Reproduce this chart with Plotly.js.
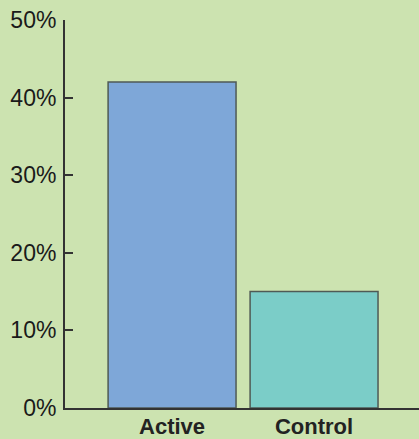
<!DOCTYPE html>
<html><head><meta charset="utf-8">
<script src="https://cdn.plot.ly/plotly-3.0.1.min.js"></script>
<style>html,body{margin:0;padding:0;background:#cce3b0;}</style>
</head><body>
<div id="chart" style="width:419px;height:439px;"></div>
<script>
const categories = ["Active", "Control"];
const values = [42, 15];
const barColors = ["#7ea7d8", "#7bcdc8"];
const yTickVals = [0, 10, 20, 30, 40, 50];
const yTickText = ["0%", "10%", "20%", "30%", "40%", "50%"];

const trace = {
  type: "bar",
  x: categories,
  y: values,
  marker: {color: barColors, line: {color: "#4f5a55", width: 1.5}},
  hoverinfo: "none"
};
const layout = {
  width: 419, height: 439,
  margin: {l: 65, r: 0, t: 20, b: 31},
  paper_bgcolor: "#cce3b0",
  plot_bgcolor: "#cce3b0",
  bargap: 0.099,
  showlegend: false,
  font: {family: "Liberation Sans, Arial, sans-serif", color: "#222222"},
  xaxis: {
    range: [-0.754, 1.739],
    showline: true, linecolor: "#333333", linewidth: 2,
    ticks: "", showgrid: false, zeroline: false,
    tickfont: {size: 22, weight: "bold", color: "#222222"},
    ticklabelstandoff: -2,
    automargin: false
  },
  yaxis: {
    range: [0, 50],
    tickvals: yTickVals, ticktext: yTickText,
    showline: true, linecolor: "#333333", linewidth: 2,
    ticks: "inside", ticklen: 8, tickwidth: 2, tickcolor: "#333333",
    showgrid: false, zeroline: false,
    tickfont: {size: 23, color: "#1a1a1a"},
    ticklabelstandoff: 2,
    automargin: false
  }
};
Plotly.newPlot("chart", [trace], layout, {displayModeBar: false, staticPlot: true});
</script>
</body></html>
